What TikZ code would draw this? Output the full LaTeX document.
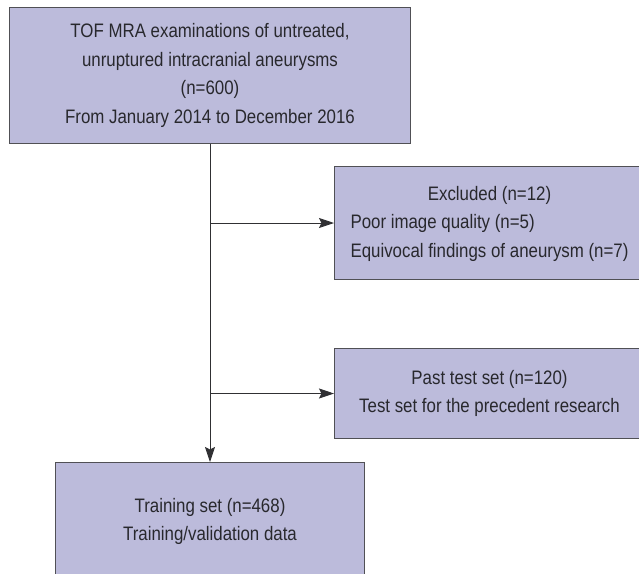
\documentclass[tikz,border=0pt]{standalone}
\usepackage{fontspec}
\setmainfont{Liberation Sans}[FakeStretch=0.865]
\usetikzlibrary{arrows.meta}
\definecolor{boxfill}{RGB}{188,187,219}
\definecolor{boxline}{RGB}{80,80,85}
\definecolor{txt}{RGB}{40,40,45}
\tikzset{
  flowbox/.style={draw=boxline, fill=boxfill, line width=1pt, inner sep=0pt, anchor=north west,
    text=txt, font=\fontsize{19.5}{28.5}\selectfont, align=center},
  conn/.style={draw=boxline!60!black, line width=0.9pt},
  arr/.style={conn, -{Stealth[length=15pt,width=10pt,inset=2.5pt]}}
}
\begin{document}
\begin{tikzpicture}[x=1pt,y=-1pt]
\useasboundingbox (0,0) rectangle (639,573);
\clip (0,0) rectangle (639,573);
\node[flowbox, minimum width=401pt, minimum height=136pt] (top) at (9,7)
  {TOF MRA examinations of untreated,\\ unruptured intracranial aneurysms\\ (n=600)\\ From January 2014 to December 2016};
\node[flowbox, minimum width=310pt, minimum height=113pt] (excl) at (334,166)
  {\begin{tabular}{@{}l@{}}\multicolumn{1}{@{}c@{}}{Excluded (n=12)}\\ Poor image quality (n=5)\\ Equivocal findings of aneurysm (n=7)\end{tabular}};
\node[flowbox, minimum width=310pt, minimum height=90pt] (past) at (334,348)
  {Past test set (n=120)\\ Test set for the precedent research};
\node[flowbox, minimum width=309pt, minimum height=118pt] (train) at (55,462)
  {Training set (n=468)\\ Training/validation data};
\draw[arr] (top.south) -- (train.north);
\draw[arr] (top.south |- excl.west) -- (excl.west);
\draw[arr] (top.south |- past.west) -- (past.west);
\end{tikzpicture}
\end{document}
